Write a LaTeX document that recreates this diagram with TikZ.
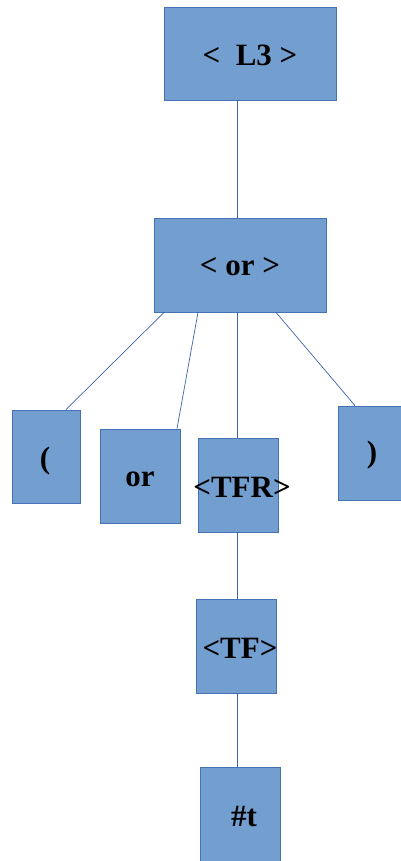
\documentclass[tikz,border=0pt]{standalone}
\usepackage{fontspec}
\setmainfont{Liberation Serif}
\definecolor{boxfill}{RGB}{114,159,207}
\definecolor{boxline}{RGB}{69,114,180}
\definecolor{edgecol}{RGB}{60,100,170}
\begin{document}
\begin{tikzpicture}[x=1pt,y=-1pt,
  bx/.style={draw=boxline,fill=boxfill,line width=0.8pt,inner sep=0pt,minimum width=#1},
  bx/.default=80pt,
  lbl/.style={font=\fontsize{31}{36}\selectfont\bfseries,inner sep=0pt,text=black},
  edge/.style={draw=edgecol,line width=0.7pt}]
\useasboundingbox (0,0) rectangle (401,861);
% boxes
\node[bx=172pt,minimum height=93pt] (L3) at (250,53.5) {};
\node[bx=172pt,minimum height=94pt] (OR) at (240,265) {};
\node[bx=68pt,minimum height=93pt] (LP) at (46,456.5) {};
\node[bx=80pt,minimum height=94pt] (ORW) at (140,476) {};
\node[bx=80pt,minimum height=94pt] (TFR) at (238,485) {};
\node[bx=70pt,minimum height=94pt] (RP) at (373,453) {};
\node[bx=80pt,minimum height=94pt] (TF) at (236,646) {};
\node[bx=80pt,minimum height=94pt] (T) at (240,814) {};
% texts
\node[lbl] (L3t) at (250,55) {<\ \ L3 >};
\node[lbl] (ORt) at (240,267) {< or >};
\node[lbl] (LPt) at (45,461) {(};
\node[lbl] (ORWt) at (140,479) {or};
\node[lbl] (TFRt) at (242,487) {<TFR>};
\node[lbl] (RPt) at (372,455) {)};
\node[lbl] (TFt) at (240,648) {<TF>};
\node[lbl] (Tt) at (244,816) {\#t};
% edges
\draw[edge] (L3.south -| 237,0) -- (OR.north -| 237,0);
\draw[edge] (OR.south -| 164,0) -- (LP.north -| 66,0);
\draw[edge] (OR.south -| 198,0) -- (ORW.north -| 177,0);
\draw[edge] (OR.south -| 237,0) -- (TFR.north -| 237,0);
\draw[edge] (OR.south -| 276,0) -- (RP.north -| 355,0);
\draw[edge] (TFR.south -| 237,0) -- (TF.north -| 237,0);
\draw[edge] (TF.south -| 237,0) -- (T.north -| 237,0);
\end{tikzpicture}
\end{document}
